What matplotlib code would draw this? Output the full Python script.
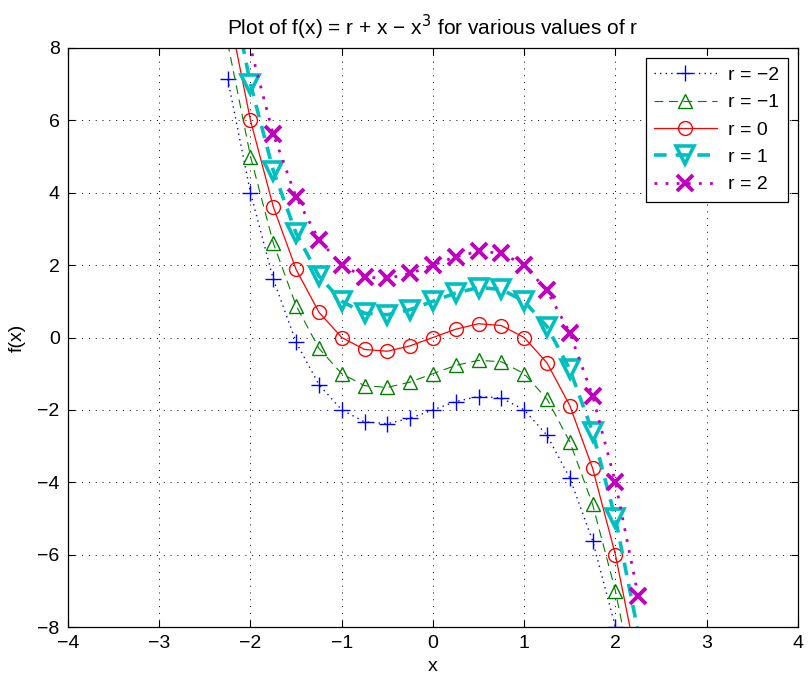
import matplotlib
matplotlib.use("Agg")
import matplotlib.pyplot as plt
from matplotlib.ticker import MultipleLocator

plt.rcParams["font.family"] = ["Liberation Sans", "DejaVu Sans"]

# marker positions (x step 0.25)
x_vals = [-2.25, -2.0, -1.75, -1.5, -1.25, -1.0, -0.75, -0.5, -0.25,
          0.0, 0.25, 0.5, 0.75, 1.0, 1.25, 1.5, 1.75, 2.0, 2.25]

r_neg2 = [7.14, 4.0, 1.61, -0.13, -1.30, -2.0, -2.33, -2.38, -2.23,
          -2.0, -1.77, -1.63, -1.67, -2.0, -2.70, -3.88, -5.61, -8.0, -11.14]
r_neg1 = [8.14, 5.0, 2.61, 0.88, -0.30, -1.0, -1.33, -1.38, -1.23,
          -1.0, -0.77, -0.63, -0.67, -1.0, -1.70, -2.88, -4.61, -7.0, -10.14]
r_zero = [9.14, 6.0, 3.61, 1.88, 0.70, 0.0, -0.33, -0.38, -0.23,
          0.0, 0.23, 0.38, 0.33, 0.0, -0.70, -1.88, -3.61, -6.0, -9.14]
r_pos1 = [10.14, 7.0, 4.61, 2.88, 1.70, 1.0, 0.67, 0.63, 0.77,
          1.0, 1.23, 1.38, 1.33, 1.0, 0.30, -0.88, -2.61, -5.0, -8.14]
r_pos2 = [11.14, 8.0, 5.61, 3.88, 2.70, 2.0, 1.67, 1.63, 1.77,
          2.0, 2.23, 2.38, 2.33, 2.0, 1.30, 0.13, -1.61, -4.0, -7.14]

labels = ["r = \u22122", "r = \u22121", "r = 0", "r = 1", "r = 2"]

# which points carry a visible marker
marks = [
    list(range(0, 18)),
    list(range(1, 18)),
    list(range(1, 18)),
    list(range(1, 18)),
    list(range(2, 19)),
]

styles = [
    dict(color="#0000ff", linestyle=(0, (1, 3)), linewidth=1.0, marker="+", markersize=11, markeredgewidth=1.0),
    dict(color="#008000", linestyle=(0, (8, 5)), linewidth=0.8, marker="^", markersize=10,
         markerfacecolor="none", markeredgewidth=1.0),
    dict(color="#ff0000", linestyle="-", linewidth=0.9, marker="o", markersize=10,
         markerfacecolor="none", markeredgewidth=1.0),
    dict(color="#00bfbf", linestyle=(0, (3.5, 2.5)), linewidth=2.6, marker="v", markersize=13,
         markerfacecolor="none", markeredgewidth=2.6),
    dict(color="#bf00bf", linestyle=(0, (1, 3)), linewidth=2.0, marker="x", markersize=11,
         markeredgewidth=2.8),
]

fig = plt.figure(figsize=(8.1, 6.75), dpi=100)
ax = fig.add_axes([0.084, 0.071, 0.901, 0.858])

for ys, lab, st, mk in zip([r_neg2, r_neg1, r_zero, r_pos1, r_pos2], labels, styles, marks):
    ax.plot(x_vals, ys, label=lab, markevery=mk, **st)

ax.set_xlim(-4, 4)
ax.set_ylim(-8, 8)
ax.xaxis.set_major_locator(MultipleLocator(1))
ax.yaxis.set_major_locator(MultipleLocator(2))
ax.tick_params(direction="in", top=True, right=True, labelsize=14, length=5, width=0.8, pad=6)
ax.grid(True, color="black", linestyle=(0, (1, 6)), linewidth=0.7)
for sp in ax.spines.values():
    sp.set_linewidth(0.9)

ax.set_xlabel("x", fontsize=14, labelpad=4)
ax.set_ylabel("f(x)", fontsize=14, labelpad=8)
ax.set_title("Plot of f(x) = r + x \u2212 x$^3$ for various values of r", fontsize=15, pad=9)

leg = ax.legend(loc="upper right", fontsize=14, handlelength=3.2, fancybox=False,
                framealpha=1, edgecolor="black", borderpad=0.45, labelspacing=0.5,
                borderaxespad=0.5, handletextpad=0.6)
leg.get_frame().set_linewidth(0.9)

fig.savefig("out.png", dpi=100)
